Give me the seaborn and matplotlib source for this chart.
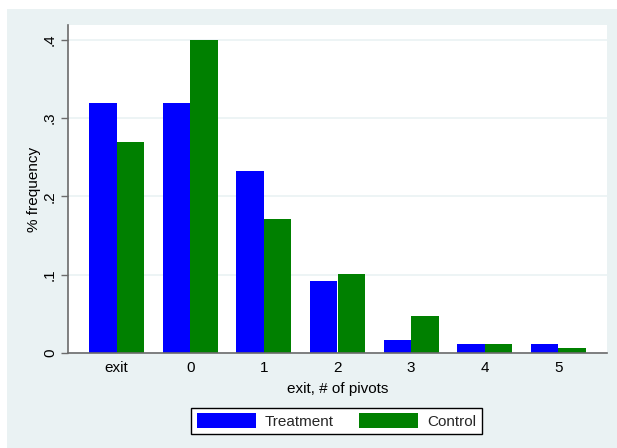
import matplotlib
matplotlib.use("Agg")
import matplotlib.pyplot as plt
from matplotlib.patches import Rectangle
import seaborn as sns
import pandas as pd

# Share of respondents by number of pivots (or exit), per group
categories = ["exit", "0", "1", "2", "3", "4", "5"]
treatment = [0.319, 0.319, 0.232, 0.092, 0.016, 0.011, 0.011]
control = [0.270, 0.400, 0.171, 0.101, 0.047, 0.011, 0.006]
groups = ["Treatment", "Control"]
y_ticks = [0, 0.1, 0.2, 0.3, 0.4]
y_ticklabels = ["0", ".1", ".2", ".3", ".4"]

df = pd.DataFrame({
    "pivots": categories * 2,
    "freq": treatment + control,
    "group": [groups[0]] * len(categories) + [groups[1]] * len(categories),
})

sns.set_theme(style="white")
plt.rcParams["font.family"] = ["Liberation Sans", "DejaVu Sans"]
FS = 11

region_bg = "#EAF2F3"
fig = plt.figure(figsize=(6.17, 4.48), dpi=100, facecolor="white")
fig.patches.append(Rectangle((7 / 617, 0), 1 - 7 / 617, 1 - 9 / 448,
                             transform=fig.transFigure, facecolor=region_bg,
                             edgecolor="none", zorder=-10))

ax = fig.add_axes([68 / 617, 1 - 353 / 448, (607 - 68) / 617, (353 - 25) / 448])
ax.set_facecolor("white")

sns.barplot(data=df, x="pivots", y="freq", hue="group", order=categories,
            hue_order=groups, palette=["#0000FF", "#008000"], saturation=1,
            width=0.75, gap=0, dodge=True, legend=False, ax=ax,
            linewidth=0, edgecolor="none")

ax.set_xlim(-0.66, 6.66)
ax.set_ylim(0, 0.419)
ax.set_yticks(y_ticks)
ax.set_yticklabels(y_ticklabels, rotation=90, va="center", fontsize=FS)
ax.yaxis.grid(True, color=region_bg, linewidth=1.2)
ax.set_axisbelow(True)

for side in ("top", "right"):
    ax.spines[side].set_visible(False)
for side in ("left", "bottom"):
    ax.spines[side].set_color("#6b6b6b")
    ax.spines[side].set_linewidth(1.2)

ax.tick_params(axis="y", direction="out", length=5, width=1, color="#6b6b6b",
               pad=3, left=True, labelcolor="black")
ax.tick_params(axis="x", length=0, pad=6, labelsize=FS, labelcolor="black")

ax.set_ylabel("% frequency", fontsize=FS, color="black")
ax.yaxis.set_label_coords(-0.063, 0.5)
ax.yaxis.label.set_va("center")
ax.set_xlabel("exit, # of pivots", fontsize=FS, color="black")
ax.xaxis.set_label_coords(0.5, (353 - 389) / 328)
ax.xaxis.label.set_va("center")

handles = [ax.containers[0], ax.containers[1]]
leg = fig.legend(handles, groups, loc="center",
                 bbox_to_anchor=(336.5 / 617, 1 - 421 / 448), ncol=2,
                 fontsize=FS, frameon=True, fancybox=False, edgecolor="black",
                 facecolor="white", framealpha=1, handlelength=3.86,
                 handleheight=1.05, handletextpad=0.59, columnspacing=1.7,
                 borderpad=0.35, borderaxespad=0)
leg.get_frame().set_linewidth(1.0)

fig.savefig("out.png", dpi=100, facecolor=fig.get_facecolor())
